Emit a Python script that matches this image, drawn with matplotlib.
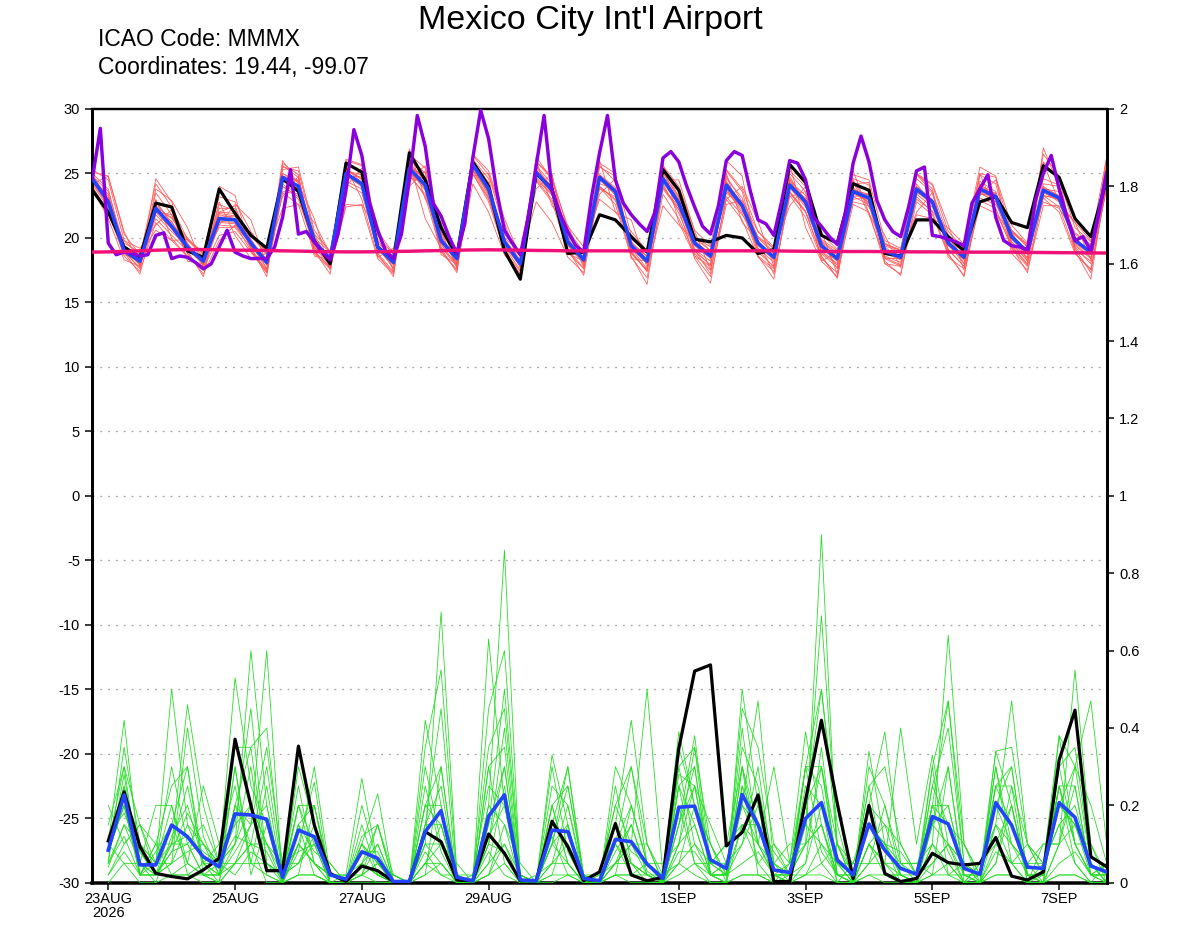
import numpy as np
import matplotlib
matplotlib.use("Agg")
import matplotlib.pyplot as plt
from matplotlib.ticker import FixedLocator, FixedFormatter

plt.rcParams['font.family'] = ['Liberation Sans', 'DejaVu Sans']
plt.rcParams['axes.unicode_minus'] = False

# ---------------- data ----------------
title = "Mexico City Int'l Airport"
line1 = "ICAO Code: MMMX"
line2 = "Coordinates: 19.44, -99.07"

# hours relative to 23AUG2026 00Z
temp_hours = list(range(-6, 379, 6))      # 65 steps, 6-hourly
precip_hours = list(range(0, 379, 6))     # 64 steps
purple_hours = list(range(-6, 379, 3))    # 129 steps, 3-hourly

date_ticks = [0, 48, 96, 144, 216, 264, 312, 360]
date_labels = ["23AUG\n2026", "25AUG", "27AUG", "29AUG", "1SEP", "3SEP", "5SEP", "7SEP"]

temp_ticks = [30, 25, 20, 15, 10, 5, 0, -5, -10, -15, -20, -25, -30]
precip_ticks = [2, 1.8, 1.6, 1.4, 1.2, 1, 0.8, 0.6, 0.4, 0.2, 0]
precip_tick_labels = ["2", "1.8", "1.6", "1.4", "1.2", "1", "0.8", "0.6", "0.4", "0.2", "0"]

temp_black = [23.7, 22.0, 19.3, 18.5, 22.7, 22.4, 19.0, 18.5, 23.8, 21.9, 20.2, 19.2, 24.6,
              23.6, 19.8, 18.0, 25.8, 25.1, 19.3, 18.3, 26.6, 24.5, 20.8, 18.6, 25.9, 24.0,
              19.0, 16.8, 25.0, 23.8, 18.8, 18.9, 21.8, 21.4, 20.1, 18.9, 25.3, 23.7, 19.9,
              19.7, 20.2, 20.0, 18.8, 19.1, 25.7, 24.3, 20.2, 19.6, 24.2, 23.7, 18.8, 18.6,
              21.4, 21.4, 20.1, 19.0, 22.8, 23.2, 21.2, 20.8, 25.6, 24.7, 21.5, 20.1, 24.5]

temp_mean = [24.6, 22.8, 19.0, 18.2, 22.3, 20.9, 19.3, 18.2, 21.5, 21.4, 19.6, 18.1, 24.7,
             24.0, 19.7, 18.4, 25.0, 24.2, 19.3, 18.1, 25.4, 24.1, 19.8, 18.4, 25.7, 23.8,
             19.7, 18.0, 25.1, 23.7, 19.7, 18.3, 24.7, 23.6, 19.4, 18.2, 24.6, 22.7, 19.6,
             18.6, 24.1, 22.5, 19.6, 18.5, 24.1, 22.8, 19.4, 18.4, 23.6, 23.1, 19.0, 18.5,
             23.8, 22.8, 19.6, 18.5, 23.8, 23.2, 20.1, 18.9, 23.7, 23.1, 19.8, 18.9, 25.0]

temp_purple = [24.6, 28.5, 19.6, 18.7, 18.9, 18.8, 18.6, 18.7, 20.2, 20.4,
               18.4, 18.6, 18.5, 18.1, 17.6, 18.0, 19.3, 20.6, 18.9, 18.6,
               18.4, 18.4, 18.4, 19.3, 21.6, 25.3, 20.3, 20.5, 19.7, 18.9,
               18.3, 20.3, 23.7, 28.4, 26.4, 22.7, 20.6, 19.0, 18.4, 20.3,
               24.5, 29.5, 27.1, 22.7, 21.7, 20.1, 18.8, 21.1, 26.2, 29.9,
               27.7, 23.7, 20.6, 19.6, 18.7, 21.6, 25.6, 29.5, 23.7, 21.9,
               20.5, 19.4, 18.9, 23.2, 26.6, 29.5, 24.5, 22.7, 21.8, 21.1,
               20.5, 22.0, 26.2, 26.7, 25.9, 24.0, 22.4, 20.9, 20.3, 22.5,
               26.0, 26.7, 26.4, 23.7, 21.4, 21.1, 20.2, 22.9, 26.0, 25.8,
               24.5, 21.6, 20.9, 20.1, 19.5, 21.9, 25.8, 27.9, 25.9, 22.9,
               21.4, 20.5, 20.1, 22.4, 25.2, 25.5, 20.2, 20.1, 19.9, 19.7,
               19.4, 22.7, 23.8, 24.9, 21.6, 19.8, 19.4, 19.3, 19.1, 22.9,
               25.0, 26.4, 23.8, 21.6, 19.8, 20.1, 19.0, 21.9, 25.0]

temp_clim = [18.9, 18.92, 18.95, 19.0, 19.05, 19.08, 19.1, 19.1, 19.08, 19.05,
             19.05, 19.03, 19.0, 18.98, 18.95, 18.93, 18.92, 18.92, 18.93, 18.95,
             18.97, 19.0, 19.02, 19.05, 19.07, 19.08, 19.07, 19.05, 19.03, 19.02,
             19.0, 19.0, 19.0, 19.0, 19.0, 19.0, 19.0, 19.0, 19.0, 19.0,
             19.0, 19.0, 19.0, 19.0, 18.98, 18.97, 18.96, 18.95, 18.95, 18.95,
             18.94, 18.93, 18.92, 18.92, 18.91, 18.9, 18.9, 18.9, 18.9, 18.88,
             18.87, 18.86, 18.85, 18.84, 18.83]

temp_members = [
    [24.8, 23.6, 19.4, 18.0, 23.5, 21.8, 19.6, 17.9, 22.6, 22.1, 19.9, 17.6, 25.5, 25.2, 20.3, 17.9, 25.8,
     25.1, 19.4, 17.6, 26.3, 25.0, 20.2, 18.0, 26.1, 24.6, 19.3, 17.5, 25.9, 24.6, 20.1, 17.8, 25.6,
     24.4, 19.0, 17.4, 25.4, 23.2, 19.0, 17.9, 25.2, 23.6, 19.1, 17.7, 25.0, 23.6, 18.9, 17.9, 24.6,
     24.1, 18.5, 17.9, 24.9, 23.6, 19.1, 17.8, 24.9, 24.2, 19.5, 18.4, 24.6, 24.1, 19.4, 18.4, 26.0],
    [24.2, 22.3, 18.7, 18.3, 21.5, 20.2, 19.0, 18.4, 20.8, 20.8, 19.3, 18.3, 24.0, 23.2, 19.2, 18.6, 24.2,
     23.5, 19.0, 18.3, 24.8, 23.4, 19.6, 18.6, 25.0, 23.0, 19.9, 18.3, 24.5, 23.0, 19.4, 18.6, 24.0,
     22.9, 19.7, 18.5, 23.8, 22.2, 20.0, 19.0, 23.2, 21.8, 20.1, 18.9, 23.5, 22.0, 19.7, 18.7, 22.8,
     22.5, 19.4, 18.9, 23.0, 22.1, 20.1, 18.9, 23.1, 22.6, 20.6, 19.3, 22.8, 22.3, 20.3, 19.4, 24.2],
    [25.3, 24.5, 19.8, 18.6, 24.2, 22.4, 19.9, 18.5, 23.2, 22.8, 20.5, 18.8, 25.3, 25.5, 20.6, 18.9, 26.1,
     25.7, 20.2, 18.7, 26.5, 25.4, 20.9, 19.0, 26.4, 24.9, 20.6, 18.6, 25.9, 24.8, 20.6, 18.9, 25.5,
     24.8, 20.2, 18.9, 25.6, 24.0, 20.6, 19.4, 25.3, 23.8, 20.5, 19.3, 25.2, 24.0, 20.3, 19.1, 24.9,
     24.5, 19.8, 19.2, 24.9, 24.1, 20.5, 19.2, 25.0, 24.7, 21.0, 19.6, 25.9, 24.5, 20.8, 19.7, 26.3],
    [24.0, 22.0, 18.6, 17.4, 21.2, 19.8, 18.6, 17.6, 20.2, 20.5, 18.9, 17.3, 23.5, 22.6, 18.8, 17.6, 22.6,
     22.5, 18.4, 17.2, 25.0, 23.2, 19.0, 17.5, 25.2, 23.1, 18.9, 17.2, 24.4, 22.8, 18.9, 17.6, 23.9,
     22.6, 18.5, 16.9, 23.4, 21.5, 18.8, 17.5, 23.0, 21.4, 18.5, 17.4, 23.3, 21.6, 18.4, 17.3, 22.6,
     22.0, 18.0, 17.2, 22.8, 21.8, 18.7, 17.1, 22.9, 22.3, 19.2, 17.8, 23.1, 22.0, 18.8, 17.6, 24.0],
    [24.9, 23.0, 19.2, 18.2, 22.8, 21.2, 19.5, 18.2, 21.9, 21.7, 19.7, 18.0, 25.0, 24.3, 19.9, 18.3, 25.3,
     24.6, 19.5, 18.0, 25.8, 24.4, 19.9, 18.3, 26.0, 24.2, 19.8, 17.9, 25.3, 23.9, 19.8, 18.2, 24.9,
     23.8, 19.5, 18.0, 24.8, 22.9, 19.7, 18.5, 24.3, 22.7, 19.6, 18.4, 24.3, 23.0, 19.3, 18.2, 23.8,
     23.3, 18.9, 18.4, 24.0, 23.0, 19.7, 18.4, 24.1, 23.4, 20.1, 18.8, 23.9, 23.3, 19.9, 18.8, 25.2],
    [24.4, 22.6, 18.9, 18.0, 22.0, 20.7, 19.1, 18.0, 21.3, 21.2, 19.4, 17.9, 24.4, 23.8, 19.5, 18.2, 24.8,
     24.0, 19.1, 17.9, 25.2, 23.9, 19.6, 18.2, 25.5, 23.6, 19.5, 17.8, 24.9, 23.5, 19.5, 18.1, 24.5,
     23.4, 19.2, 18.0, 24.4, 22.5, 19.4, 18.4, 23.9, 22.3, 19.4, 18.3, 23.9, 22.6, 19.2, 18.2, 23.4,
     22.9, 18.8, 18.3, 23.6, 22.6, 19.4, 18.3, 23.6, 23.0, 19.9, 18.7, 23.5, 22.9, 19.6, 18.7, 24.8],
    [23.8, 21.5, 18.3, 17.8, 24.6, 22.8, 18.8, 17.2, 19.8, 21.0, 20.4, 18.9, 22.3, 22.6, 21.2, 18.8, 26.0,
     25.6, 18.6, 17.3, 25.9, 21.5, 19.2, 18.1, 26.5, 25.2, 21.5, 18.5, 22.8, 21.2, 18.5, 17.3, 25.8,
     25.0, 18.8, 17.5, 22.5, 21.0, 19.8, 18.7, 26.0, 24.8, 18.6, 17.6, 25.8, 20.8, 18.2, 17.0, 24.2,
     24.3, 18.0, 17.8, 21.8, 21.5, 20.8, 19.5, 25.5, 24.8, 18.8, 17.5, 22.5, 22.5, 21.2, 19.8, 25.5],
    [25.1, 24.8, 20.3, 18.7, 20.6, 19.8, 19.9, 18.9, 24.0, 23.3, 19.0, 17.5, 25.8, 24.9, 19.0, 17.7, 22.4,
     22.6, 20.5, 18.8, 24.6, 25.6, 20.5, 17.7, 24.2, 22.0, 18.7, 17.2, 26.3, 24.5, 20.9, 19.3, 23.0,
     22.0, 20.5, 19.0, 25.5, 23.8, 18.6, 17.0, 22.6, 22.9, 20.5, 19.1, 22.5, 24.0, 19.8, 17.6, 25.2,
     21.9, 19.5, 19.0, 25.0, 23.8, 18.5, 17.6, 22.5, 21.9, 20.4, 19.5, 26.5, 24.8, 18.8, 17.5, 24.0],
    [24.5, 23.2, 19.1, 17.9, 23.0, 20.0, 18.5, 17.8, 22.3, 22.3, 19.2, 17.4, 23.6, 23.4, 19.3, 17.8, 24.7,
     24.8, 19.8, 18.3, 25.1, 23.8, 18.9, 17.5, 25.4, 23.6, 19.2, 17.0, 24.6, 23.3, 20.3, 18.8, 24.2,
     23.8, 18.9, 17.4, 23.9, 22.4, 19.1, 17.2, 24.8, 22.8, 19.8, 18.4, 23.5, 22.0, 18.6, 16.9, 23.9,
     22.7, 19.3, 18.4, 24.6, 23.5, 20.2, 18.0, 24.4, 23.6, 19.4, 17.9, 27.0, 23.9, 19.2, 17.3, 24.8],
    [24.7, 23.0, 19.4, 18.6, 22.5, 21.5, 20.0, 18.7, 21.0, 20.9, 19.6, 18.4, 25.0, 24.4, 20.0, 18.9, 25.4,
     24.3, 19.6, 18.5, 24.9, 24.6, 20.3, 18.8, 25.8, 23.9, 20.0, 18.9, 25.6, 24.2, 19.8, 18.5, 24.8,
     23.5, 19.6, 18.6, 25.0, 23.2, 20.2, 19.0, 24.6, 23.1, 20.0, 18.8, 24.4, 23.3, 19.8, 18.8, 23.2,
     23.4, 19.6, 19.0, 24.2, 22.6, 19.8, 18.9, 23.6, 23.5, 20.5, 19.3, 23.8, 23.6, 20.0, 18.9, 25.6],
    [23.9, 22.0, 18.9, 17.7, 22.0, 21.3, 19.2, 17.9, 21.6, 21.7, 19.5, 17.6, 24.2, 23.0, 19.4, 18.0, 25.4,
     24.5, 19.2, 17.7, 24.7, 24.3, 19.5, 17.9, 25.6, 23.5, 19.4, 17.8, 25.2, 24.0, 19.4, 18.0, 23.8,
     23.2, 19.2, 17.6, 24.2, 21.9, 19.1, 18.2, 23.8, 21.9, 19.2, 18.1, 24.5, 22.5, 19.0, 18.0, 23.0,
     23.2, 18.6, 18.1, 23.4, 22.4, 19.5, 18.0, 24.2, 23.0, 19.7, 18.5, 23.2, 23.2, 19.5, 18.5, 24.5],
    [24.3, 22.5, 19.3, 18.4, 21.8, 20.5, 19.3, 18.3, 22.0, 21.9, 19.9, 18.2, 24.8, 24.5, 19.8, 18.5, 25.0,
     24.0, 19.3, 18.2, 25.8, 24.5, 20.0, 18.5, 25.2, 23.7, 19.9, 18.2, 24.7, 23.4, 19.8, 18.4, 24.9,
     23.9, 19.5, 18.3, 24.3, 22.6, 19.7, 18.8, 23.8, 22.1, 19.6, 18.6, 24.0, 23.1, 19.5, 18.5, 23.5,
     23.0, 19.1, 18.6, 23.5, 22.9, 19.6, 18.6, 23.4, 23.3, 20.2, 19.0, 23.6, 22.8, 19.9, 19.0, 25.3],
    [25.0, 23.8, 19.0, 17.6, 22.9, 21.0, 18.8, 17.5, 21.2, 21.1, 19.0, 17.3, 25.6, 24.7, 19.0, 17.7, 25.2,
     24.9, 18.8, 17.4, 25.5, 24.7, 19.3, 17.8, 26.0, 24.3, 19.0, 17.4, 25.5, 23.9, 19.0, 17.7, 24.5,
     23.6, 18.8, 17.5, 25.1, 23.0, 19.0, 17.9, 24.4, 22.5, 18.9, 17.8, 24.6, 22.9, 18.8, 17.7, 23.7,
     23.4, 18.4, 17.8, 23.8, 22.8, 19.1, 17.8, 23.9, 23.4, 19.6, 18.2, 24.0, 23.2, 19.3, 18.0, 25.4],
    [24.6, 22.9, 19.6, 18.9, 22.2, 21.6, 19.8, 18.8, 21.8, 21.5, 20.2, 18.7, 23.9, 23.7, 20.3, 19.0, 24.4,
     23.8, 19.9, 18.8, 25.3, 23.7, 20.4, 19.1, 25.3, 23.4, 20.3, 18.8, 25.0, 23.6, 20.2, 19.0, 24.6,
     23.3, 19.9, 18.9, 24.5, 22.8, 20.1, 19.3, 23.6, 22.6, 20.1, 19.2, 23.9, 22.4, 19.9, 19.0, 23.6,
     22.7, 19.5, 19.1, 23.6, 22.8, 20.2, 19.1, 23.5, 22.8, 20.6, 19.5, 23.3, 23.0, 20.4, 19.5, 24.8],
    [24.2, 24.8, 20.5, 17.8, 23.8, 22.9, 20.8, 17.7, 21.0, 22.6, 21.4, 17.9, 26.0, 24.2, 21.5, 17.5, 24.0,
     25.4, 20.8, 17.4, 26.9, 23.0, 21.2, 17.6, 24.8, 25.0, 21.2, 17.6, 26.0, 22.5, 21.0, 17.9, 26.0,
     22.0, 21.4, 17.7, 24.5, 24.5, 20.5, 17.5, 23.0, 24.0, 21.3, 17.8, 24.8, 22.5, 20.5, 17.2, 24.5,
     22.4, 20.2, 17.7, 25.0, 24.2, 21.0, 17.5, 23.3, 24.5, 20.5, 18.2, 25.8, 22.8, 21.2, 18.3, 26.2],
    [23.9, 21.8, 19.8, 19.2, 21.0, 22.2, 18.2, 18.0, 22.8, 20.2, 18.4, 18.8, 23.2, 24.8, 18.6, 18.3, 25.5,
     23.0, 18.5, 19.2, 24.0, 25.2, 18.7, 18.0, 25.0, 22.8, 19.0, 18.8, 23.8, 25.0, 18.8, 18.2, 23.4,
     24.6, 18.4, 18.2, 25.8, 21.2, 18.6, 17.8, 25.0, 21.2, 19.8, 17.2, 23.2, 23.6, 18.2, 18.9, 24.4,
     21.8, 18.4, 18.4, 22.0, 23.5, 18.9, 19.0, 25.0, 22.0, 19.4, 18.0, 24.2, 24.0, 19.1, 18.2, 23.8],
    [24.5, 23.4, 18.9, 17.2, 22.0, 21.8, 19.0, 17.0, 22.0, 22.5, 19.3, 17.0, 24.5, 23.8, 19.0, 17.2, 25.3,
     24.6, 18.8, 17.0, 25.6, 24.5, 19.2, 17.3, 25.8, 23.2, 19.0, 16.9, 25.0, 23.5, 19.1, 17.1, 24.0,
     23.0, 18.6, 16.4, 24.0, 22.2, 18.4, 16.5, 23.5, 22.4, 18.6, 16.8, 23.6, 22.1, 18.6, 16.9, 23.2,
     22.6, 18.2, 17.1, 23.2, 22.0, 18.8, 17.0, 23.5, 22.8, 19.3, 17.3, 23.3, 22.4, 19.0, 16.8, 24.5],
]

precip_black = [0.108, 0.235, 0.093, 0.024, 0.016, 0.010, 0.033, 0.063, 0.371, 0.200, 0.031, 0.031,
                0.353, 0.149, 0.024, 0.003, 0.043, 0.031, 0.003, 0.003, 0.132, 0.106, 0.007, 0.005,
                0.126, 0.076, 0.005, 0.005, 0.159, 0.093, 0.005, 0.028, 0.153, 0.020, 0.005, 0.014,
                0.347, 0.547, 0.563, 0.095, 0.130, 0.227, 0.003, 0.003, 0.214, 0.420, 0.205, 0.011,
                0.200, 0.024, 0.003, 0.011, 0.076, 0.052, 0.046, 0.050, 0.117, 0.017, 0.007, 0.028,
                0.317, 0.446, 0.067, 0.041]

precip_mean = [0.084, 0.227, 0.046, 0.046, 0.149, 0.119, 0.067, 0.041, 0.178, 0.175, 0.164, 0.014,
               0.136, 0.119, 0.020, 0.009, 0.080, 0.063, 0.003, 0.003, 0.132, 0.186, 0.014, 0.005,
               0.172, 0.227, 0.007, 0.005, 0.136, 0.132, 0.011, 0.005, 0.112, 0.106, 0.048, 0.011,
               0.195, 0.198, 0.059, 0.037, 0.228, 0.150, 0.033, 0.026, 0.166, 0.207, 0.059, 0.020,
               0.152, 0.084, 0.037, 0.022, 0.171, 0.152, 0.037, 0.022, 0.207, 0.149, 0.040, 0.037,
               0.207, 0.169, 0.043, 0.028]

precip_members = [
    [.10, .42, .05, 0, .12, .20, .05, .02, .20, .15, .60, 0, .10, .26, 0, 0, .05, .10, 0, 0, .10, .70, .02, 0,
     .20, .86, 0, 0, .10, .05, 0, 0, .08, .15, .03, 0, .25, .15, .02, 0, .50, .20, 0, .02, .10, .90, .05, 0,
     .10, .05, 0, .01, .15, .30, 0, 0, .10, .20, 0, .02, .20, .15, .05, 0],
    [.05, .35, .10, .05, .50, .15, .10, .05, .53, .25, .15, 0, .20, .10, 0, .02, .27, .05, 0, 0, .15, .45, 0, 0,
     .10, .30, 0, 0, .33, .15, 0, 0, .15, .42, .10, 0, .10, .25, .15, .05, .20, .47, .05, 0, .15, .69, .10, .05,
     .20, .39, .05, 0, .10, .64, .10, .02, .30, .10, .05, .10, .10, .55, .10, 0],
    [.15, .30, .02, .10, .10, .46, .20, .05, .10, .60, .20, 0, .30, .15, .02, 0, .10, .23, 0, 0, .20, .15, 0, 0,
     .63, .20, 0, 0, .10, .30, .02, 0, .05, .10, .50, .02, .39, .20, .10, .02, .15, .10, .30, .05, .39, .15, .02, 0,
     .10, .05, .40, .10, .33, .10, .05, 0, .34, .20, .02, 0, .38, .10, .02, .05],
    [.08, .20, .05, .20, .20, .05, .25, .10, .15, .45, .05, .02, .05, .10, .05, 0, .05, .02, 0, 0, .42, .20, 0, 0,
     .15, .50, .02, 0, .15, .10, 0, 0, .25, .05, 0, 0, .15, .38, .05, .10, .30, .15, 0, 0, .20, .50, .15, 0,
     .34, .10, .02, 0, .20, .47, .05, .05, .15, .47, .10, .02, .20, .30, .47, .10],
    [.05, .15, .10, .05, .30, .10, .02, 0, .20, .10, .10, 0, .10, .05, 0, 0, .10, .05, 0, 0, .05, .15, 0, 0,
     .10, .40, 0, 0, .20, .05, 0, 0, .10, .05, .02, 0, .10, .35, .02, .05, .25, .05, 0, .05, .10, .30, .10, 0,
     .10, .02, 0, 0, .10, .05, 0, .05, .20, .10, .05, .05, .25, .05, 0, .05],
    [.10, .25, .02, .02, .05, .15, .05, .10, .25, .05, .25, 0, .15, .08, .05, 0, .02, .10, 0, 0, .10, .10, .05, 0,
     .20, .15, .05, 0, .05, .20, 0, 0, .10, .02, .05, 0, .30, .10, .05, .05, .20, .10, .05, .10, .10, .15, 0, .05,
     .15, .10, 0, 0, .25, .15, .10, 0, .15, .05, .10, .05, .15, .20, .05, 0],
    [.12, .18, .08, .02, .08, .10, .15, .05, .10, .20, .10, .05, .05, .15, 0, 0, .05, .02, .02, 0, .05, .10, 0, 0,
     .05, .10, .02, 0, .10, .25, .02, 0, .05, .10, .10, 0, .20, .05, .05, .10, .15, .05, .10, .02, .20, .05, .10, 0,
     .05, .10, .05, .05, .10, .02, .05, 0, .30, .05, 0, .10, .10, .25, .02, .02],
    [.05, .12, .02, .08, .15, .05, .02, .02, .05, .10, .30, .02, .20, .20, 0, 0, .08, .08, 0, 0, .15, .25, 0, .02,
     .25, .20, 0, 0, .12, .02, .02, 0, .02, .20, .05, .05, .10, .15, .02, .05, .10, .30, .02, 0, .05, .20, 0, 0,
     .10, .15, .10, .02, .05, .10, 0, .05, .10, .05, .05, 0, .30, .10, .10, .02],
    [.02, .10, .15, .02, .10, .25, .05, 0, .30, .05, .05, .02, .10, .05, .02, 0, .15, .02, 0, 0, .05, .05, 0, 0,
     .10, .08, 0, .02, .05, .10, 0, .02, .20, .10, .02, 0, .05, .20, .10, 0, .30, .02, .02, .05, .15, .10, .05, .05,
     .05, .20, .02, 0, .15, .20, .02, 0, .05, .25, 0, .05, .15, .05, 0, 0],
    [.10, .05, .05, .02, .05, .08, .10, .02, .10, .30, .02, 0, .02, .20, .02, .02, .02, .05, .02, 0, .08, .02, .02, 0,
     .05, .25, .02, 0, .30, .08, 0, 0, .15, .08, .05, 0, .15, .30, .02, .02, .40, .10, .02, 0, .30, .08, .02, .02,
     .20, .02, .02, .02, .20, .08, 0, .02, .25, .15, .02, 0, .10, .15, .02, .05],
    [.06, .28, .02, .05, .20, .02, .05, .02, .08, .15, .20, 0, .15, .02, 0, 0, .10, .02, 0, 0, .25, .08, 0, 0,
     .30, .05, 0, 0, .02, .15, 0, .02, .05, .15, .02, .02, .05, .10, .02, .02, .10, .20, .05, .02, .30, .25, .02, 0,
     .15, .05, .05, .05, .02, .30, .02, .02, .15, .10, .02, .02, .25, .10, .02, .02],
    [.08, .20, .02, .10, .02, .05, .02, .02, .30, .02, .15, .02, .05, .12, 0, 0, .02, .05, .02, 0, .02, .30, 0, 0,
     .02, .15, 0, 0, .20, .05, 0, 0, .05, .05, .02, 0, .25, .05, .02, 0, .15, .15, .02, .02, .05, .35, .02, .02,
     .25, .02, .02, 0, .30, .02, .02, 0, .05, .20, .02, 0, .10, .30, .05, 0],
    [.04, .15, .05, .02, .10, .12, .08, .05, .02, .08, .05, 0, .10, .05, .02, .02, .05, .02, 0, 0, .10, .05, 0, 0,
     .08, .02, 0, 0, .05, .05, 0, 0, .02, .02, .02, 0, .08, .08, .02, .02, .05, .08, .02, .02, .02, .10, .02, 0,
     .05, .05, .02, 0, .05, .10, .02, 0, .08, .05, 0, 0, .05, .08, .02, 0],
    [.02, .08, .02, .02, .02, .02, .02, 0, .05, .05, .02, 0, .02, .02, 0, 0, .02, 0, 0, 0, .02, .05, 0, 0,
     .02, .05, 0, 0, .02, .02, 0, 0, .02, .02, 0, 0, .05, .02, 0, 0, .02, .02, 0, 0, .02, .02, 0, 0,
     .02, .02, 0, 0, .02, .02, 0, 0, .02, .02, 0, 0, .02, .02, 0, 0],
    [.12, .22, .05, .05, .10, .10, .02, .05, .15, .20, .10, .02, .25, .05, 0, 0, .02, .15, 0, 0, .20, .20, .02, 0,
     .15, .30, 0, 0, .15, .10, .02, 0, .10, .20, .05, .02, .35, .20, .05, .02, .20, .15, .08, .02, .25, .20, .05, .02,
     .15, .10, .08, .02, .20, .15, .02, .02, .20, .30, .02, .02, .20, .15, .05, .02],
    [.09, .25, .08, .02, .08, .18, .10, .05, .12, .10, .08, 0, .08, .10, 0, 0, .10, .05, 0, 0, .15, .15, 0, 0,
     .12, .20, .02, 0, .10, .15, 0, 0, .15, .05, .02, 0, .15, .25, .02, .02, .30, .10, .02, .02, .10, .15, .02, 0,
     .15, .10, .02, 0, .15, .10, .05, .02, .20, .15, .02, .02, .25, .10, .02, .02],
    [.20, .10, .15, .10, .25, .30, .05, .05, .05, .15, .35, .05, .08, .30, .02, 0, .12, .15, .02, 0, .30, .10, .02, .02,
     .35, .45, .02, 0, .25, .20, .02, 0, .30, .20, .05, 0, .28, .25, .05, .02, .35, .25, .05, .02, .30, .30, .05, 0,
     .30, .20, .05, .02, .25, .40, .05, .02, .25, .25, .10, .02, .30, .35, .05, 0],
    [.10, .30, .15, .05, .05, .40, .12, .02, .35, .35, .40, .02, .15, .20, .02, 0, .20, .05, .02, 0, .35, .55, .02, 0,
     .45, .60, .02, 0, .20, .25, .02, .02, .20, .30, .10, .02, .30, .35, .10, .02, .45, .35, .10, .05, .30, .50, .10, .02,
     .25, .30, .10, .02, .30, .47, .10, .02, .34, .35, .10, .05, .38, .30, .20, .05],
    [.08, .20, .02, .02, .15, .30, .02, .02, .20, .35, .05, .02, .20, .05, .02, 0, .05, .15, 0, 0, .20, .30, 0, 0,
     .30, .35, 0, 0, .15, .30, 0, 0, .10, .30, .05, 0, .25, .30, .02, 0, .25, .15, .02, 0, .20, .30, .02, 0,
     .20, .15, .02, 0, .20, .20, .02, 0, .25, .30, .02, 0, .25, .25, .02, 0],
    [0, .05, 0, 0, .02, .02, 0, 0, .05, .10, 0, 0, .02, .02, 0, 0, 0, 0, 0, 0, .05, .02, 0, 0,
     .02, .10, 0, 0, 0, .02, 0, 0, .02, 0, 0, 0, .02, .05, 0, 0, .02, .02, 0, 0, .02, .05, 0, 0,
     .02, 0, 0, 0, .02, .05, 0, 0, .02, .02, 0, 0, .02, .02, 0, 0],
]

# ---------------- drawing ----------------
PX = 72.0 / 100.0  # points per pixel at 100 dpi

fig = plt.figure(figsize=(12, 9.27), dpi=100)
ax = fig.add_axes([92.4 / 1200, 44.3 / 927, (1106.7 - 92.4) / 1200, (882.7 - 109) / 927])
ax2 = ax.twinx()

ax.set_xlim(-6, 378)
ax.set_ylim(-30, 30)
ax2.set_ylim(0, 2)

# dotted grid
for g in [25, 20, 15, 10, 5, 0, -5, -10, -15, -20, -25]:
    ax.axhline(g, color='#a8a8a8', lw=1.3 * PX, linestyle=(0, (1.5, 4.5)), zorder=0)

t6 = np.array(temp_hours)
for m in temp_members:
    ax.plot(t6[:len(m)], m, color='#ff5a5a', lw=0.8 * PX, zorder=2)
ax.plot(t6[:len(temp_black)], temp_black, color='black', lw=3.2 * PX, zorder=4)
ax.plot(t6[:len(temp_mean)], temp_mean, color='#2244ff', lw=3.6 * PX, zorder=5)
tp = np.array(purple_hours)
ax.plot(tp[:len(temp_purple)], temp_purple, color='#8a00dd', lw=3.4 * PX, zorder=6)
ax.plot(t6[:len(temp_clim)], temp_clim, color='#f0107a', lw=3.4 * PX, zorder=7)

tpr = np.array(precip_hours)
for m in precip_members:
    ax2.plot(tpr[:len(m)], m, color='#22dd22', lw=0.8 * PX, zorder=2)
ax2.plot(tpr[:len(precip_black)], precip_black, color='black', lw=3.2 * PX, zorder=4)
ax2.plot(tpr[:len(precip_mean)], precip_mean, color='#2244ff', lw=3.6 * PX, zorder=5)

# axes styling
for a in (ax, ax2):
    for s in a.spines.values():
        s.set_color('black')
ax.spines['left'].set_linewidth(3 * PX)
ax.spines['bottom'].set_linewidth(3.5 * PX)
ax.spines['top'].set_linewidth(2.4 * PX)
ax.spines['right'].set_linewidth(3 * PX)
ax2.spines['left'].set_visible(False)
ax2.spines['bottom'].set_visible(False)
ax2.spines['top'].set_visible(False)
ax2.spines['right'].set_linewidth(3 * PX)

ax.yaxis.set_major_locator(FixedLocator(temp_ticks))
ax.yaxis.set_major_formatter(FixedFormatter([str(v) for v in temp_ticks]))
ax2.yaxis.set_major_locator(FixedLocator(precip_ticks))
ax2.yaxis.set_major_formatter(FixedFormatter(precip_tick_labels))
ax.xaxis.set_major_locator(FixedLocator(date_ticks))
ax.xaxis.set_major_formatter(FixedFormatter(date_labels))

ax.tick_params(axis='y', direction='out', length=5, width=1.5 * PX, labelsize=10.5, pad=4)
ax2.tick_params(axis='y', direction='out', length=5, width=1.5 * PX, labelsize=10.5, pad=4)
ax.tick_params(axis='x', direction='out', length=5, width=1.5 * PX, labelsize=10.5, pad=2)
for lab in ax.get_xticklabels():
    lab.set_linespacing(0.95)

fig.text(590.5 / 1200, 1 - 20 / 927, title, ha='center', va='center', fontsize=24.5)
fig.text(98 / 1200, 1 - 40 / 927, line1, ha='left', va='center', fontsize=16.5)
fig.text(98 / 1200, 1 - 67.5 / 927, line2, ha='left', va='center', fontsize=16.5)

fig.savefig('out.png', dpi=100)
